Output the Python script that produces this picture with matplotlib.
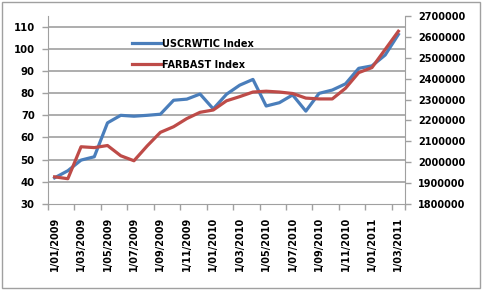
import matplotlib
matplotlib.use("Agg")
import matplotlib.pyplot as plt
from matplotlib.patches import Rectangle

months = ["1/01/2009", "1/02/2009", "1/03/2009", "1/04/2009", "1/05/2009", "1/06/2009",
          "1/07/2009", "1/08/2009", "1/09/2009", "1/10/2009", "1/11/2009", "1/12/2009",
          "1/01/2010", "1/02/2010", "1/03/2010", "1/04/2010", "1/05/2010", "1/06/2010",
          "1/07/2010", "1/08/2010", "1/09/2010", "1/10/2010", "1/11/2010", "1/12/2010",
          "1/01/2011", "1/02/2011", "1/03/2011"]

uscrwtic = [41.8, 45.0, 49.8, 51.3, 66.6, 70.0, 69.6, 70.0, 70.5, 76.8, 77.3, 79.6,
            72.9, 79.5, 83.6, 86.2, 74.2, 75.7, 79.2, 71.9, 79.9, 81.4, 84.2, 91.2,
            92.3, 97.2, 106.5]

farbast = [1930000, 1921000, 2074000, 2070000, 2080000, 2031000, 2007000, 2078000,
           2143000, 2170000, 2209000, 2239000, 2250000, 2294000, 2314000, 2336000,
           2340000, 2336000, 2329000, 2307000, 2303000, 2303000, 2354000, 2429000,
           2453000, 2540000, 2627000]

left_ticks = [30, 40, 50, 60, 70, 80, 90, 100, 110]
right_ticks = [1800000, 1900000, 2000000, 2100000, 2200000, 2300000, 2400000, 2500000,
               2600000, 2700000]

plt.rcParams['font.family'] = ['DejaVu Sans']
plt.rcParams['font.weight'] = 'bold'

fig = plt.figure(figsize=(4.82, 2.90), dpi=100)
W, H = 482, 290
ax = fig.add_axes([48 / W, 1 - 204 / H, (405 - 48) / W, (204 - 16) / H])
ax2 = ax.twinx()

blue = "#4A7EBB"
red = "#BE4B48"
grid = "#A0A0A0"

x = list(range(len(months)))
l1, = ax.plot(x, uscrwtic, color=blue, lw=2.3, label="USCRWTIC Index", zorder=3,
              solid_joinstyle='round')
l2, = ax2.plot(x, farbast, color=red, lw=2.3, label="FARBAST Index", zorder=3,
               solid_joinstyle='round')

ax.set_xlim(-0.5, len(months) - 0.5)
ax.set_ylim(30, 30 + 188 / 2.217)
ax2.set_ylim(1800000, 2700000)

ax.set_yticks(left_ticks)
ax.set_yticklabels([str(v) for v in left_ticks])
ax2.set_yticks(right_ticks)
ax2.set_yticklabels([str(v) for v in right_ticks])

for t in left_ticks[1:]:
    ax.axhline(t, color=grid, lw=1.2, zorder=1)

# x ticks: marks at category boundaries every 2, labels at every other category
ax.set_xticks([i - 0.5 for i in range(0, len(months), 2)] + [len(months) - 0.5])
ax.set_xticklabels([])
ax.set_xticks(list(range(0, len(months), 2)), minor=True)
ax.set_xticklabels([months[i] for i in range(0, len(months), 2)], minor=True,
                   rotation=90, fontsize=7, fontweight='bold')
ax.tick_params(axis='x', which='minor', length=0, pad=9)
ax.tick_params(axis='x', which='major', length=4, color=grid, width=1)

ax.tick_params(axis='y', length=4, color=grid, width=1, labelsize=7.3, pad=5.5)
ax2.tick_params(axis='y', length=4, color=grid, width=1, labelsize=7, pad=5.5)

for a in (ax, ax2):
    for s in a.spines.values():
        s.set_visible(False)
ax.spines['left'].set_visible(True)
ax.spines['left'].set_color(grid)
ax.spines['bottom'].set_visible(True)
ax.spines['bottom'].set_color(grid)
ax2.spines['right'].set_visible(True)
ax2.spines['right'].set_color(grid)
for lab in ax.get_yticklabels() + ax2.get_yticklabels():
    lab.set_fontweight('bold')

leg = fig.legend(handles=[l1, l2], loc='upper left', bbox_to_anchor=(128 / W, 1 - 35 / H),
                 frameon=False, fontsize=7, handlelength=3.0, labelspacing=1.1,
                 handletextpad=0.1, borderaxespad=0)
for t in leg.get_texts():
    t.set_fontweight('bold')

fig.patches.append(Rectangle((2 / W, 2 / H), 478 / W, 286 / H, transform=fig.transFigure,
                             fill=False, edgecolor="#A0A0A0", lw=1))

fig.savefig("out.png", dpi=100)
